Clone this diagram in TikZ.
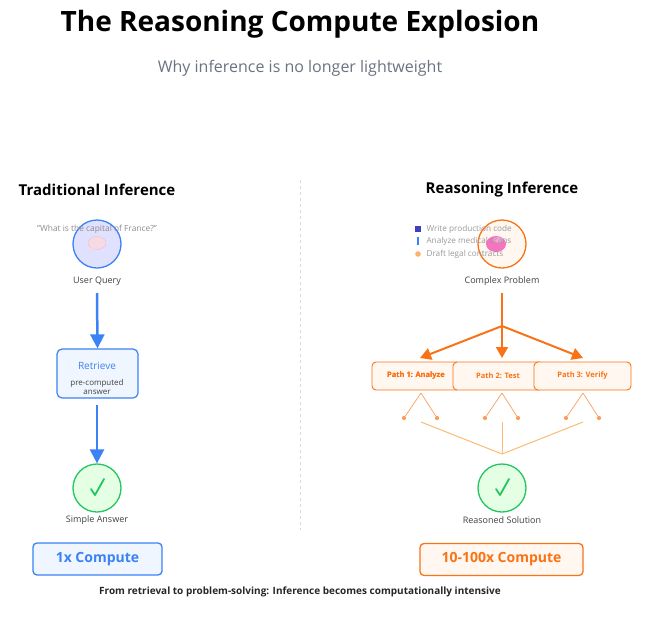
\documentclass[tikz,border=0pt]{standalone}
\usepackage{fontspec}
\setmainfont{Open Sans}
\usetikzlibrary{arrows.meta}
\definecolor{blu}{HTML}{3B82F6}
\definecolor{org}{HTML}{F97316}
\definecolor{grn}{HTML}{22C55E}
\definecolor{lorg}{HTML}{FDBA74}
\definecolor{gry}{HTML}{6B7280}
\definecolor{lblu}{HTML}{EFF6FF}
\begin{document}
\begin{tikzpicture}[x=1pt,y=-1pt,
  lbl/.style={font=\fontsize{9}{10}\selectfont,text=black!75},
  head/.style={font=\fontsize{15}{17}\selectfont\bfseries},
  circ/.style={circle,minimum size=48pt,line width=1.3pt,inner sep=0},
  barr/.style={-{Triangle[length=14pt,width=14pt]},line width=2.5pt,blu},
  oarr/.style={-{Triangle[length=11pt,width=12pt]},line width=2pt,org},
  pbox/.style={draw=org,fill=orange!6,rounded corners=4pt,line width=0.9pt,minimum height=28pt,font=\fontsize{7.5}{8}\selectfont\bfseries,text=org},
  cbox/.style={rounded corners=4pt,line width=1.3pt,minimum width=129pt,minimum height=32pt,font=\fontsize{14}{16}\selectfont\bfseries},
  tree/.style={org!70,line width=0.7pt},
  dot/.style={circle,fill=org!70,inner sep=1.5pt},
  conv/.style={lorg,line width=1pt},
  chk/.style={grn,line width=1.8pt,line cap=round,line join=round}]
\useasboundingbox (0,0) rectangle (653,638);
\node[font=\fontsize{28}{32}\selectfont\bfseries] (title) at (300,24) {The Reasoning Compute Explosion};
\node[font=\fontsize{16}{18}\selectfont,text=gry] (sub) at (300,68) {Why inference is no longer lightweight};
\node[head] (lh) at (97,190) {Traditional Inference};
\node[head] (rh) at (502,190) {Reasoning Inference};
\coordinate (dt) at (300,180); \coordinate (db) at (300,530);
\draw[black!15,dashed,line width=0.8pt] (dt) -- (db);
% left
\node[circ,draw=blu,fill=blue!12] (uq) at (97,244) {};
\fill[purple!15,draw=purple!25] (97,243) ellipse (9pt and 6.5pt);
\fill[purple!15] (91,247) -- (89,252) -- (95,248) -- cycle;
\node[font=\fontsize{8.4}{9}\selectfont,text=black!45] (qt) at (97,229) {"What is the capital of France?"};
\node[lbl] (uql) at (97,281) {User Query};
\node[draw=blu,fill=lblu,rounded corners=5pt,line width=1.2pt,minimum width=81pt,minimum height=49pt] (ret) at (97.5,373.5) {};
\node[font=\fontsize{10}{11}\selectfont,text=blu] (rt) at (97,366) {Retrieve};
\node[font=\fontsize{8}{9.5}\selectfont,text=black!75,align=center] (rs) at (97,387) {pre-computed\\answer};
\coordinate (a1) at (97,293);
\draw[barr] (a1) -- (ret.north);
\node[circ,draw=grn,fill=green!10] (sa) at (97,488) {};
\draw[chk] (91,489) -- (95,495) -- (104,479);
\coordinate (a2) at (97,405);
\draw[barr] (a2) -- (sa.north);
\node[lbl] (sal) at (97,520) {Simple Answer};
\node[cbox,draw=blu,fill=lblu,text=blu] (c1) at (97.5,559) {1x Compute};
% right
\node[circ,draw=org,fill=orange!6] (cp) at (502,244) {};
\fill[magenta!55] (496,244) ellipse (10pt and 8pt);
\fill[magenta!35] (498,240) ellipse (5pt and 3pt);
\node[font=\fontsize{8.2}{12.5}\selectfont,text=black!40,anchor=west,align=left] (list) at (423,241.5) {Write production code\\Analyze medical scans\\Draft legal contracts};
\fill[blue!50!gray] (415,226) rectangle (421,232);
\fill[blu] (417,237) rectangle (419,245);
\fill[orange!60] (418,254) circle (2.8pt);
\node[lbl] (cpl) at (502,281) {Complex Problem};
\node[pbox,minimum width=88pt] (p1) at (416,376) {Path 1: Analyze};
\node[pbox,minimum width=90pt] (p2) at (498,376) {Path 2: Test};
\node[pbox,minimum width=97pt] (p3) at (582.5,376) {Path 3: Verify};
\node[pbox,draw=none,fill=none] (p1t) at (416,376) {Path 1: Analyze};
\coordinate (sp) at (502,326);
\coordinate (a3) at (502,293);
\draw[org,line width=2pt] (a3) -- (sp);
\coordinate (t1) at (420,358); \coordinate (t2) at (502,358); \coordinate (t3) at (583,358);
\draw[oarr] (sp) -- (t1);
\draw[oarr] (sp) -- (t2);
\draw[oarr] (sp) -- (t3);
\foreach \x/\n in {421/a,502/b,583/c}{
  \coordinate (ap\n) at (\x,393);
  \node[dot] (l\n) at (\x-17,418) {};
  \node[dot] (r\n) at (\x+16,418) {};
  \draw[tree] (ap\n) -- (l\n); \draw[tree] (ap\n) -- (r\n);
}
\node[circ,draw=grn,fill=green!10] (rs2) at (502,488) {};
\draw[chk] (496,489) -- (500,495) -- (509,479);
\coordinate (m1) at (421,422); \coordinate (m2) at (502,422); \coordinate (m3) at (583,422);
\coordinate (mj) at (502,454);
\draw[conv] (m1) -- (mj); \draw[conv] (m2) -- (mj); \draw[conv] (m3) -- (mj);
\node[lbl] (rsl) at (502,520) {Reasoned Solution};
\node[cbox,draw=org,fill=orange!6,text=org,minimum width=163pt] (c2) at (501.5,559.5) {10-100x Compute};
\node[font=\fontsize{10}{12}\selectfont\bfseries,text=black!85] (foot) at (300,592) {From retrieval to problem-solving: Inference becomes computationally intensive};
\end{tikzpicture}
\end{document}
